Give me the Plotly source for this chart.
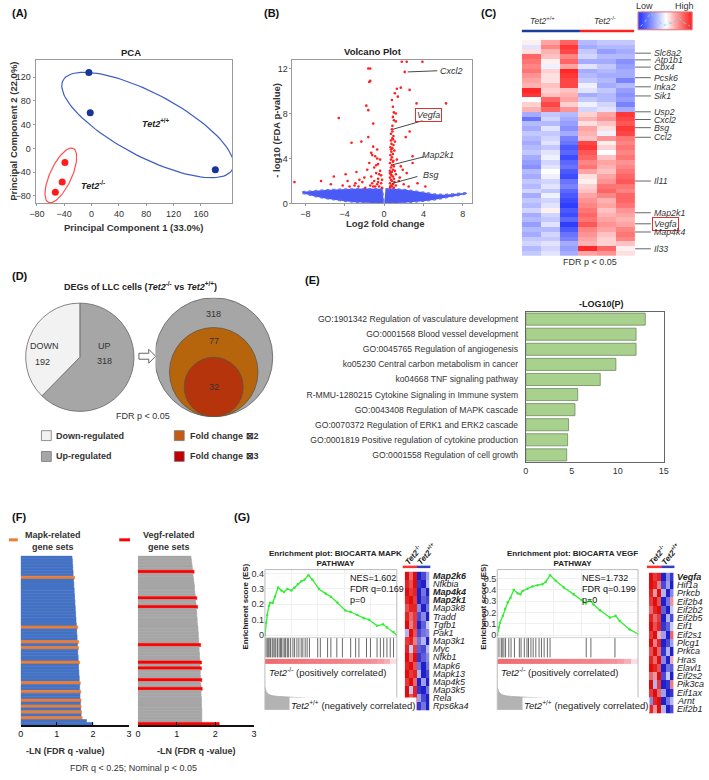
import numpy as np
import plotly.graph_objects as go

W, H = 709, 780
FONT = "Liberation Sans, Arial, Helvetica, sans-serif"

# ======================= DATA =======================
# (A) PCA
pca_wt_pc1 = [-4, -2, 181]
pca_wt_pc2 = [128, 60, -36]
pca_ko_pc1 = [-39, -43, -53]
pca_ko_pc2 = [-24, -57, -74]
pca_xticks = [-80, -40, 0, 40, 80, 120, 160]
pca_yticks = [-80, -40, 0, 40, 80, 120]

# (B) Volcano: significant genes (red)
volc_sig_x = [-9.1, -6.4, -5.4, -5.1, -4.6, -3.9, -3.7, -3.3, -3.0, -2.8, -2.6, -2.3, -2.2, -2.0, -1.8, -1.7,
              -1.6, -1.6, -1.6, -1.5, -1.4, -1.4, -1.4, -1.3, -1.2, -1.2, -1.1, -1.1, -1.0, -1.0, -0.9, -0.9,
              -0.8, -0.7, -0.7, -0.7, -0.6, -0.6, -0.5, -0.4, -0.4, -0.3, -0.3, -0.2, -2.5, -3.5, -1.9, -1.5,
              -1.3, -0.8, -0.5, -0.2, -2.9, -4.2, -1.1, -0.6,
              0.6, 0.6, 0.6, 0.6, 0.6, 0.65, 0.65, 0.7, 0.7, 0.7, 0.7, 0.7, 0.7, 0.7, 0.75, 0.75, 0.8, 0.8, 0.8,
              0.8, 0.8, 0.8, 0.85, 0.85, 0.85, 0.9, 0.9, 0.9, 0.9, 0.9, 0.95, 0.95, 1.0, 1.0, 1.0, 1.0, 1.0,
              1.05, 1.1, 1.1, 1.2, 1.2, 1.2, 1.3, 1.3, 1.4, 1.5, 1.7, 1.7, 1.9, 2.0, 2.2, 2.3, 2.6, 2.6, 2.9,
              2.9, 3.3, 1.8, 2.3, 3.9, 2.1, 6.3, 0.8, 0.9, 1.2, 0.9, 1.6, 2.5, 3.4, 4.2, 0.65, 0.75, 0.95,
              1.1, 0.7, 0.85, 1.05, 0.6, 0.9]
volc_sig_y = [1.9, 2.0, 1.7, 2.4, 7.6, 2.6, 2.0, 5.4, 1.6, 2.8, 1.5, 5.5, 1.9, 2.3, 8.7, 3.0,
              12.0, 5.9, 8.3, 10.8, 12.0, 10.9, 1.6, 2.4, 4.3, 1.8, 7.1, 5.05, 3.2, 2.0, 4.2, 1.5,
              2.7, 4.8, 4.0, 1.7, 3.5, 2.2, 1.5, 3.9, 2.9, 1.8, 2.5, 1.4, 2.1, 1.5, 1.4, 3.6,
              4.5, 3.4, 2.6, 2.1, 1.8, 1.6, 1.5, 1.9,
              1.4, 1.8, 2.3, 2.9, 3.6, 4.3, 5.0, 5.6, 6.2, 1.6, 2.1, 2.6, 3.2, 3.9, 4.6, 5.3, 6.6, 1.5, 2.0,
              2.8, 3.4, 4.1, 4.9, 5.8, 6.9, 1.7, 2.4, 3.0, 3.7, 4.4, 5.2, 6.0, 7.4, 8.1, 1.4, 2.2, 3.3,
              4.7, 5.5, 9.8, 7.3, 2.6, 1.6, 3.9, 10.2, 9.5, 2.0, 10.3, 3.3, 3.0, 1.7, 5.9, 2.7, 6.4, 10.1, 4.2,
              3.6, 8.9, 12.6, 12.6, 12.6, 11.7, 8.9, 9.2, 8.6, 8.0, 7.7, 2.3, 1.5, 1.8, 1.5, 1.5, 2.5, 3.8,
              2.9, 4.8, 6.4, 1.9, 2.7, 5.7]
# non-significant cloud (blue) outline, left and right of zero
cloud_left_top_x = [-8.3, -7.5, -7.0, -6.0, -5.0, -4.0, -3.0, -2.0, -1.0, -0.4, -0.15]
cloud_left_top_y = [1.05, 1.12, 1.15, 1.2, 1.25, 1.3, 1.3, 1.32, 1.32, 1.32, 1.3]
cloud_left_bot_x = [-0.02, -0.5, -1.0, -2.0, -3.0, -4.0, -5.0, -6.0, -7.0, -7.5, -8.3]
cloud_left_bot_y = [0.0, 0.01, 0.02, 0.05, 0.1, 0.2, 0.3, 0.45, 0.62, 0.72, 0.9]
cloud_right_top_x = [0.15, 0.6, 1.0, 2.0, 3.0, 4.0, 5.0, 6.0, 7.0, 8.0, 8.4]
cloud_right_top_y = [1.3, 1.32, 1.3, 1.25, 1.15, 1.0, 0.85, 0.78, 0.85, 0.95, 0.95]
cloud_right_bot_x = [8.4, 8.0, 7.0, 6.0, 5.0, 4.0, 3.0, 2.0, 1.0, 0.5, 0.02]
cloud_right_bot_y = [0.85, 0.78, 0.6, 0.45, 0.3, 0.2, 0.1, 0.05, 0.02, 0.01, 0.0]
volc_genes = ["Cxcl2", "Vegfa", "Map2k1", "Bsg"]
volc_gene_x = [2.4, 0.9, 0.9, 0.8]
volc_gene_y = [11.7, 6.6, 3.45, 1.77]

# (C) heatmap (rows = DEGs, cols = 3 Tet2+/+ then 3 Tet2-/-)
c_heat = [
    [0.1, 0.6, 1.0, -0.5, -0.4, -0.4], [-0.2, 0.8, 1.3, -0.6, -0.5, -0.5], [0.2, 0.5, 1.2, -0.4, -0.7, -0.6],
    [1.0, 0.4, 0.8, -0.3, -0.5, -0.5], [0.9, 0.1, 1.0, -0.6, -0.6, -0.8], [0.8, -0.1, 0.6, -0.2, -0.4, -0.7],
    [0.9, 0.3, 1.4, -0.6, -0.5, -0.6], [0.7, 0.2, 1.3, -0.5, -0.6, -0.6], [0.6, 0.2, 1.2, -0.4, -0.5, -0.9],
    [0.5, 0.4, 1.2, -0.1, -0.6, -0.5], [1.4, 0.3, 0.4, -0.2, -0.4, -0.7], [1.3, 0.4, 0.5, -0.6, -0.5, -0.8],
    [0.0, 1.0, 0.6, -0.4, -0.5, -0.7], [0.3, 1.2, 0.3, -0.1, -0.3, -0.9], [0.5, 1.0, 0.7, -0.3, -0.2, -0.6],
    [-0.6, -0.4, -0.5, 0.3, 0.6, 1.3], [-1.0, -0.3, -0.6, 0.5, 0.7, 1.2], [-0.5, -0.5, -0.7, 0.2, 0.4, 1.1],
    [-0.6, -0.2, -0.8, 0.6, 0.2, 1.3], [-0.4, -0.4, -0.6, 0.5, -0.1, 1.2], [-0.5, -0.3, -0.9, 0.4, 0.7, 0.9],
    [-0.6, -0.2, -1.0, 1.2, 0.1, 0.8], [-0.5, -0.4, -1.2, 1.3, 0.3, 0.9], [-0.4, -0.2, -1.1, 1.1, 0.0, 0.8],
    [-0.6, -0.1, -1.3, 1.0, 0.4, 0.9], [-0.7, -0.3, -1.1, 0.8, 0.6, 0.7], [-0.8, -0.2, -1.0, 0.9, 0.5, 0.8],
    [-0.5, 0.0, -1.2, 0.6, 0.4, 0.9], [-0.6, -0.1, -1.3, 0.2, 0.6, 1.0], [-0.4, -0.3, -1.0, 0.1, 0.7, 1.1],
    [-0.5, -0.2, -0.9, 0.3, 0.9, 0.9], [-0.3, -0.4, -1.1, 0.4, 1.0, 0.8], [-0.6, -0.1, -1.2, 0.6, 0.8, 1.0],
    [-0.4, -0.3, -1.3, 0.7, 0.5, 1.0], [-0.5, -0.2, -1.4, 0.8, 0.6, 0.9], [-0.3, 0.1, -1.2, 0.9, 0.4, 0.7],
    [-0.6, -0.3, -1.3, 1.0, 0.5, 0.6], [-0.5, -0.4, -1.1, 0.9, 0.6, 0.5], [-0.7, -0.2, -1.4, 1.1, 0.7, 0.6],
    [-0.5, -0.5, -1.2, 0.8, 0.6, 0.8], [-0.6, -0.3, -1.0, 0.7, 0.4, 0.9], [-0.4, -0.4, -0.9, 0.6, 0.3, 0.8],
    [-0.3, -0.2, -0.6, 0.5, 0.3, 0.4], [-0.5, -0.3, -0.7, 1.4, 1.0, 0.1], [-0.4, -0.2, -0.6, 0.6, 0.7, 0.2],
]
c_genes = ["Slc8a2", "Atp1b1", "Cbx4", "Pcsk6", "Inka2", "Sik1", "Usp2", "Cxcl2", "Bsg", "Ccl2",
           "Il11", "Map2k1", "Vegfa", "Map4k4", "Il33"]
c_gene_rows = [2.3, 3.7, 5.2, 7.4, 9.3, 11.2, 14.5, 16.1, 17.8, 19.8, 28.9, 35.5, 37.8, 39.5, 43.0]
c_legend_grad = [-1.0, -0.8, -0.6, -0.4, -0.2, 0.0, 0.2, 0.4, 0.6, 0.8, 1.0]
c_legend_hist = [0.2, 0.35, 0.7, 0.95, 0.6, 0.55, 0.3, 0.25, 0.4, 0.35, 0.5, 0.65, 0.45, 0.3, 0.2]

# (D) DEG counts
deg_labels = ["UP", "DOWN"]
deg_counts = [318, 192]
up_fc_labels = ["318", "77", "32"]

# (E) enrichment
e_terms = ["GO:1901342 Regulation of vasculature development", "GO:0001568 Blood vessel development",
           "GO:0045765 Regulation of angiogenesis", "ko05230 Central carbon metabolism in cancer",
           "ko04668 TNF signaling pathway", "R-MMU-1280215 Cytokine Signaling in Immune system",
           "GO:0043408 Regulation of MAPK cascade", "GO:0070372 Regulation of ERK1 and ERK2 cascade",
           "GO:0001819 Positive regulation of cytokine production", "GO:0001558 Regulation of cell growth"]
e_logp = [13.0, 12.0, 12.0, 9.8, 8.1, 5.65, 5.35, 4.65, 4.55, 4.45]

# (F) -LN(FDR q) of enriched gene sets (sorted)
mapk_sets = [1.42, 1.43, 1.43, 1.44, 1.44, 1.45, 1.45, 1.49, 1.46, 1.47, 1.47, 1.48, 1.48, 1.49, 1.49, 1.50,
             1.50, 1.51, 1.51, 1.52, 1.52, 1.53, 1.53, 1.54, 1.58, 1.55, 1.55, 1.56, 1.56, 1.60, 1.57, 1.60,
             1.58, 1.58, 1.59, 1.59, 1.63, 1.60, 1.60, 1.61, 1.61, 1.62, 1.62, 1.65, 1.63, 1.63, 1.66, 1.64,
             1.64, 1.67, 1.65, 1.67, 1.66, 1.68, 1.67, 1.70, 1.82, 2.00]
mapk_hl = [7, 24, 29, 31, 36, 43, 46, 49, 51, 53, 55]
vegf_sets = [1.37, 1.38, 1.39, 1.40, 1.41, 1.45, 1.42, 1.43, 1.44, 1.45, 1.46, 1.46, 1.47, 1.48, 1.52, 1.49,
             1.50, 1.54, 1.51, 1.52, 1.52, 1.53, 1.53, 1.54, 1.55, 1.55, 1.56, 1.56, 1.57, 1.57, 1.62, 1.58,
             1.58, 1.59, 1.59, 1.60, 1.64, 1.60, 1.64, 1.61, 1.61, 1.62, 1.65, 1.62, 1.63, 1.66, 1.63, 1.63,
             1.64, 1.64, 1.64, 1.64, 1.65, 1.65, 1.65, 1.65, 1.65, 2.10]
vegf_hl = [5, 14, 17, 30, 36, 38, 42, 45, 57]

# (G) GSEA
mapk_es_rank = [0, 0.75, 1.75, 3, 4, 6, 7.5, 10, 12.5, 14.5, 17, 20, 22.5, 25, 27.5, 30, 33, 36, 41, 46,
                50, 55, 61, 65, 70, 75, 79, 85, 89.5, 92.5, 97.5, 100]
mapk_es = [0, 0.08, 0.13, 0.19, 0.21, 0.21, 0.25, 0.31, 0.29, 0.28, 0.30, 0.29, 0.31, 0.33, 0.35, 0.36,
           0.39, 0.36, 0.30, 0.27, 0.25, 0.21, 0.16, 0.15, 0.13, 0.11, 0.10, 0.06, 0.07, 0.05, 0.02, 0.0]
mapk_hits = [0.75, 1.75, 2.5, 3.25, 4.25, 5.5, 6.25, 7.5, 8.25, 9.5, 10.75, 11.75, 12.5, 13.75, 15, 15.75,
             17, 18, 19.5, 21.25, 22.5, 24.25, 25.75, 27.5, 28.75, 30.5, 32, 33.75, 40, 42, 47.5, 50, 54.5,
             58.75, 65, 68.75, 71.25, 77, 80, 85, 87.5, 90, 92.5, 95, 97.5]
vegf_es_rank = [0, 1, 2, 4, 5.6, 7.5, 9.4, 11.7, 14.5, 16.4, 18, 21.5, 25, 28.6, 32, 34.4, 37.5, 41.5,
                47.3, 54.3, 60, 63, 65.6, 68.4, 73, 80, 84, 87, 94, 100]
vegf_es = [0, 0.07, 0.11, 0.17, 0.23, 0.29, 0.33, 0.40, 0.37, 0.36, 0.39, 0.41, 0.43, 0.44, 0.45, 0.47,
           0.53, 0.48, 0.42, 0.36, 0.31, 0.28, 0.31, 0.27, 0.22, 0.155, 0.17, 0.125, 0.05, 0.01]
vegf_hits = [1.2, 2.8, 3.5, 4.7, 5.9, 8.2, 9.8, 12.2, 15.7, 16.9, 19.2, 21.1, 22.2, 23.9, 25.5, 27.4,
             29.7, 31.4, 33.3, 35.6, 37.5, 63.2, 66.5, 83.6]
rank_metric_bar = [1.0, 0.98, 0.95, 0.93, 0.9, 0.88, 0.86, 0.84, 0.82, 0.8, 0.78, 0.76, 0.74, 0.72, 0.7,
                   0.66, 0.6, 0.5, 0.35, 0.1]
metric_rank = [0, 1, 3, 6, 10, 20, 40, 60, 80, 100]
metric_val = [0.75, 0.6, 0.5, 0.46, 0.44, 0.42, 0.36, 0.3, 0.24, 0.1]
mapk_genes = ["Map2k6", "Nfkbia", "Map4k4", "Map2k1", "Map3k8", "Tradd", "Tgfb1", "Pak1", "Map3k1", "Myc",
              "Nfkb1", "Mapk6", "Mapk13", "Map4k5", "Map3k5", "Rela", "Rps6ka4"]
mapk_bold = ["Map2k6", "Map4k4", "Map2k1"]
mapk_heat = [
    [1.0, 0.6, 1.0, -1.0, -0.8, -0.4], [0.9, 0.7, 1.0, -0.9, -1.0, -0.3], [1.0, 0.8, 0.9, -1.0, -0.6, -1.0],
    [0.9, 1.0, 0.8, -1.0, -0.7, -0.8], [0.7, 0.9, 0.9, -0.5, -1.0, -0.6], [0.9, 0.6, 0.8, -0.8, -0.5, -1.0],
    [1.0, 0.5, 0.8, -1.0, -0.7, -0.2], [-0.3, 1.0, 0.7, -0.8, -0.6, -0.5], [0.8, 0.9, 0.5, -0.6, -0.3, -1.0],
    [0.9, -0.2, 0.8, -0.7, -0.8, -0.3], [1.0, 0.6, 1.0, -0.9, -0.7, -0.5], [0.9, 1.0, 0.7, -0.6, -1.0, -0.6],
    [1.0, 0.8, 0.9, -0.3, -1.0, -0.8], [0.8, 1.0, 0.6, -1.0, -0.4, -1.0], [1.0, -0.2, 0.9, -0.9, -1.0, -0.6],
    [1.0, 0.7, 0.9, -0.4, -0.8, -1.0], [0.6, -0.3, 0.8, -0.9, -0.6, -1.0]]
vegf_genes = ["Vegfa", "Hif1a", "Prkcb", "Eif2b4", "Eif2b2", "Eif2b5", "Eif1", "Eif2s1", "Plcg1", "Prkca",
              "Hras", "Elavl1", "Eif2s2", "Pik3ca", "Eif1ax", "Arnt", "Eif2b1"]
vegf_bold = ["Vegfa"]
vegf_heat = [
    [1.0, 0.8, 0.9, -1.0, -0.5, -0.9], [1.0, 0.9, 0.5, -0.8, -0.4, -1.0], [0.9, 0.4, 1.0, -0.3, -1.0, -0.5],
    [0.8, 1.0, 0.7, -1.0, -0.6, 0.4], [0.6, 0.9, 1.0, -0.7, -1.0, -0.2], [0.9, 0.6, 0.8, -1.0, -0.3, -0.8],
    [1.0, 0.7, 0.9, -0.9, -0.7, -0.2], [0.8, 1.0, 0.3, -0.4, -1.0, 0.6], [1.0, 0.5, 0.9, -1.0, -0.8, -0.4],
    [0.7, 1.0, 0.6, -0.9, -0.3, -1.0], [0.9, 0.6, 1.0, -0.5, -1.0, 0.3], [1.0, 0.9, 0.7, -1.0, -0.6, -0.7],
    [0.6, 0.4, 1.0, -0.8, -0.2, -1.0], [1.0, -0.3, 0.8, -1.0, -0.9, 0.5], [0.8, 1.0, 0.6, -0.4, -1.0, -0.9],
    [-0.5, 0.9, 1.0, -1.0, -0.6, -0.3], [0.9, 0.4, 1.0, -0.3, -1.0, -0.8]]

# ======================= HELPERS =======================
def dx(l, r): return [l / W, r / W]
def dy(t, b): return [1 - b / H, 1 - t / H]
def ref(n): return ("x" if n == 1 else f"x{n}"), ("y" if n == 1 else f"y{n}")

layout_axes = {}
def set_axes(n, xd, yd, xkw=None, ykw=None):
    xr, yr = ref(n)
    xa = dict(domain=xd, anchor=yr, showgrid=False, zeroline=False, fixedrange=True,
              tickfont=dict(size=9, color="#333", family=FONT))
    ya = dict(domain=yd, anchor=xr, showgrid=False, zeroline=False, fixedrange=True,
              tickfont=dict(size=9, color="#333", family=FONT))
    xa.update(xkw or {}); ya.update(ykw or {})
    layout_axes["xaxis" if n == 1 else f"xaxis{n}"] = xa
    layout_axes["yaxis" if n == 1 else f"yaxis{n}"] = ya

HIDDEN = dict(visible=False)
annotations, shapes = [], []

def txt(text, x, y, size=9, color="#222", xanchor="center", yanchor="middle", bold=False, angle=0, **kw):
    if bold:
        text = f"<b>{text}</b>"
    annotations.append(dict(text=text, x=x / W, y=1 - y / H, xref="paper", yref="paper", showarrow=False,
                            font=dict(size=size, color=color, family=FONT), xanchor=xanchor,
                            yanchor=yanchor, textangle=angle, **kw))

def line_px(x0, y0, x1, y1, color, width=1):
    shapes.append(dict(type="line", xref="paper", yref="paper", x0=x0 / W, x1=x1 / W, y0=1 - y0 / H,
                       y1=1 - y1 / H, line=dict(color=color, width=width)))

def rect_px(x0, y0, x1, y1, fill, line=None, width=0.8):
    shapes.append(dict(type="rect", xref="paper", yref="paper", x0=x0 / W, x1=x1 / W, y0=1 - y1 / H,
                       y1=1 - y0 / H, fillcolor=fill, line=dict(color=line or fill, width=width if line else 0)))

fig = go.Figure()

# ======================= (A) PCA =======================
set_axes(1, dx(30, 230), dy(59, 204),
         dict(range=[-82, 206], tickvals=pca_xticks, showline=True, mirror=True, linecolor="#999",
              ticks="outside", ticklen=2, tickcolor="#999"),
         dict(range=[-93, 150], tickvals=pca_yticks, showline=True, mirror=True, linecolor="#999",
              ticks="outside", ticklen=2, tickcolor="#999"))

def ellipse(cx, cy, a, b, ang, sx, sy, n=120):
    t = np.linspace(0, 2 * np.pi, n)
    th = np.radians(ang)
    ex = a * np.cos(t) * np.cos(th) - b * np.sin(t) * np.sin(th)
    ey = a * np.cos(t) * np.sin(th) + b * np.sin(t) * np.cos(th)
    return cx + ex / sx, cy + ey / sy

SX, SY = 200 / 288, 145 / 243
bx, by = ellipse(np.mean(pca_wt_pc1[:2]) + 85, 39.5, 97, 32, -27.6, SX, SY)
fig.add_trace(go.Scatter(x=bx, y=by, mode="lines", line=dict(color="#3f5fc4", width=1.2), hoverinfo="skip"))
rx, ry = ellipse(np.mean(pca_ko_pc1), np.mean(pca_ko_pc2) + 6, 30, 11, 65, SX, SY)
fig.add_trace(go.Scatter(x=rx, y=ry, mode="lines", line=dict(color="#ff4f4f", width=1.2), hoverinfo="skip"))
fig.add_trace(go.Scatter(x=pca_wt_pc1, y=pca_wt_pc2, mode="markers", marker=dict(size=7, color="#16349a")))
fig.add_trace(go.Scatter(x=pca_ko_pc1, y=pca_ko_pc2, mode="markers", marker=dict(size=7, color="#ff1c1c")))
txt("(A)", 4, 12, size=11, bold=True, xanchor="left", color="#111")
txt("PCA", 127, 52, size=9.5, bold=True)
txt("Principal Component 1 (33.0%)", 130, 228, size=9.5, bold=True, color="#333")
txt("Principal Component 2 (22.0%)", 8, 131, size=9.5, bold=True, color="#333", angle=-90)
txt("<i>Tet2</i><sup>+/+</sup>", 152, 123, size=9, bold=True)
txt("<i>Tet2</i><sup>-/-</sup>", 88, 185, size=9, bold=True)

# ======================= (B) Volcano =======================
set_axes(2, dx(291, 473), dy(59, 204),
         dict(range=[-9.3, 8.9], tickvals=[-8, -4, 0, 4, 8], showline=True, mirror=True, linecolor="#999",
              ticks="outside", ticklen=2, tickcolor="#999"),
         dict(range=[0, 12.8], tickvals=[0, 4, 8, 12], showline=True, mirror=True, linecolor="#999",
              ticks="outside", ticklen=2, tickcolor="#999"))
for tx, ty, bxx, byy in [(cloud_left_top_x, cloud_left_top_y, cloud_left_bot_x, cloud_left_bot_y),
                         (cloud_right_top_x, cloud_right_top_y, cloud_right_bot_x, cloud_right_bot_y)]:
    fig.add_trace(go.Scatter(x=tx + bxx, y=ty + byy, xaxis="x2", yaxis="y2", mode="lines", fill="toself",
                             fillcolor="#4a5af5", line=dict(color="#6371f7", width=1.5, dash="dot"),
                             hoverinfo="skip"))
fig.add_trace(go.Scatter(x=volc_sig_x, y=volc_sig_y, xaxis="x2", yaxis="y2", mode="markers",
                         marker=dict(size=2.6, color="#ff2020"), hoverinfo="skip"))
label_pos = {"Cxcl2": (5.4, 11.8, 6.9, 11.75), "Vegfa": (3.9, 7.35, 4.5, 7.9),
             "Map2k1": (4.1, 4.16, 5.5, 4.35), "Bsg": (3.4, 2.4, 4.8, 2.57)}
for g, gx, gy in zip(volc_genes, volc_gene_x, volc_gene_y):
    ex_, ey_, lx, ly = label_pos[g]
    shapes.append(dict(type="line", xref="x2", yref="y2", x0=gx, y0=gy, x1=ex_, y1=ey_,
                       line=dict(color="#333", width=0.9)))
    extra = dict(bordercolor="#e03030", borderwidth=1, borderpad=1) if g == "Vegfa" else {}
    annotations.append(dict(text=f"<i>{g}</i>", x=lx, y=ly, xref="x2", yref="y2", showarrow=False,
                            font=dict(size=9, color="#333", family=FONT), **extra))
txt("(B)", 270, 12, size=11, bold=True, color="#111")
txt("Volcano Plot", 373, 51, size=9.5, bold=True)
txt("Log2 fold change", 385, 224, size=9.5, bold=True, color="#333")
txt("- log10 (FDA p-value)", 275, 130, size=9.5, bold=True, color="#333", angle=-90)

# ======================= (C) Heatmap =======================
HM_CS = [[0, "#1f30ff"], [0.5, "#ffffff"], [1, "#ff1818"]]
set_axes(3, dx(524, 639), dy(39, 257), dict(HIDDEN, range=[-0.5, 5.5]),
         dict(HIDDEN, range=[len(c_heat) - 0.5, -0.5]))
fig.add_trace(go.Heatmap(z=c_heat, xaxis="x3", yaxis="y3", colorscale=HM_CS, zmin=-1.5, zmax=1.5,
                         showscale=False, hoverinfo="skip"))
for g, r in zip(c_genes, c_gene_rows):
    shapes.append(dict(type="line", xref="paper", yref="y3", x0=639 / W, x1=655 / W, y0=r, y1=r,
                       line=dict(color="#555", width=0.9)))
    extra = dict(bordercolor="#e03030", borderwidth=1, borderpad=1) if g == "Vegfa" else {}
    annotations.append(dict(text=f"<i>{g}</i>", x=656 / W, y=r, xref="paper", yref="y3", showarrow=False,
                            xanchor="left", font=dict(size=8.8, color="#333", family=FONT), **extra))
txt("(C)", 491, 12, size=11, bold=True, color="#111")
txt("<i>Tet2</i><sup>+/+</sup>", 545, 20, size=8.5, color="#333")
txt("<i>Tet2</i><sup>-/-</sup>", 608, 20, size=8.5, color="#333")
rect_px(524, 29, 583, 31.5, "#1d3c9c")
rect_px(583, 29, 638, 31.5, "#ff2020")
txt("FDR p < 0.05", 593, 263, size=9, color="#333")
# Low/High legend
set_axes(4, dx(642, 697), dy(11, 29), dict(HIDDEN, range=[-0.5, len(c_legend_grad) - 0.5]),
         dict(HIDDEN, range=[-0.5, 0.5]))
fig.add_trace(go.Heatmap(z=[c_legend_grad], xaxis="x4", yaxis="y4", colorscale=HM_CS, zmin=-1.1, zmax=1.1,
                         showscale=False, zsmooth="best", hoverinfo="skip"))
fig.add_trace(go.Scatter(x=np.linspace(0, len(c_legend_grad) - 1, len(c_legend_hist)),
                         y=np.array(c_legend_hist) - 0.5, xaxis="x4", yaxis="y4", mode="lines",
                         line=dict(color="#5fe0e0", width=1, dash="dot"), hoverinfo="skip"))
rect_px(642, 11, 697, 29, "rgba(0,0,0,0)", line="#e07070", width=1)
txt("Low", 649, 5, size=9, color="#333")
txt("High", 689, 5, size=9, color="#333")

# ======================= (D) DEG pie + nested circles =======================
fig.add_trace(go.Pie(values=deg_counts, labels=deg_labels, sort=False, direction="clockwise",
                     marker=dict(colors=["#a6a6a6", "#f2f2f2"], line=dict(color="#666", width=0.8)),
                     textinfo="none", domain=dict(x=dx(20, 130), y=dy(304, 414)), hoverinfo="skip"))
txt("DOWN", 39, 348, size=9, color="#333")
txt(str(deg_counts[1]), 37, 364, size=9, color="#333")
txt("UP", 100, 348, size=9, color="#333")
txt(str(deg_counts[0]), 100, 363, size=9, color="#333")
arrow = [(135, 355), (145, 355), (145, 351), (152, 358), (145, 365), (145, 361), (135, 361)]
shapes.append(dict(type="path", xref="paper", yref="paper",
                   path="M " + " L ".join(f"{x / W},{1 - y / H}" for x, y in arrow) + " Z",
                   fillcolor="white", line=dict(color="#555", width=0.9)))
set_axes(5, dx(152, 272), dy(299, 419), dict(HIDDEN, range=[0, 120]), dict(HIDDEN, range=[0, 120]))
circ_r = [60, 45, 30]
circ_col = ["#a6a6a6", "#b7650d", "#b5340c"]
for r, c in zip(circ_r, circ_col):
    shapes.append(dict(type="circle", xref="x5", yref="y5", x0=59 - r, x1=59 + r, y0=0, y1=2 * r,
                       fillcolor=c, line=dict(color="#555", width=0.7)))
for lab, yy in zip(up_fc_labels, [104, 76, 30]):
    annotations.append(dict(text=lab, x=59, y=yy, xref="x5", yref="y5", showarrow=False,
                            font=dict(size=9, color="#333", family=FONT)))
txt("(D)", 4, 277, size=11, bold=True, xanchor="left", color="#111")
txt("DEGs of LLC cells (<i>Tet2</i><sup>-/-</sup> vs <i>Tet2</i><sup>+/+</sup>)", 137, 287, size=9,
    bold=True, color="#222")
txt("FDR p < 0.05", 139, 418, size=9, color="#333")
rect_px(36, 433, 46, 443, "#f2f2f2", line="#777")
rect_px(36, 454, 46, 464, "#a6a6a6", line="#777")
rect_px(171, 433, 181, 443, "#c55a11", line="#777")
rect_px(171, 454, 181, 464, "#c00000", line="#777")
txt("Down-regulated", 49, 438, size=9, bold=True, xanchor="left", color="#333")
txt("Up-regulated", 49, 459, size=9, bold=True, xanchor="left", color="#333")
txt("Fold change ⊠2", 185, 438, size=9, bold=True, xanchor="left", color="#333")
txt("Fold change ⊠3", 185, 459, size=9, bold=True, xanchor="left", color="#333")

# ======================= (E) enrichment bars =======================
set_axes(6, dx(528, 668), dy(313, 465),
         dict(range=[0, 15], tickvals=[0, 5, 10, 15], showline=True, mirror=True, linecolor="#666",
              ticks=""),
         dict(autorange="reversed", showline=True, mirror=True, linecolor="#666", ticks="",
              ticklabelstandoff=5, tickfont=dict(size=8.6, color="#333", family=FONT)))
fig.add_trace(go.Bar(x=e_logp, y=e_terms, orientation="h", xaxis="x6", yaxis="y6", width=0.8,
                     marker=dict(color="#a9d18e", line=dict(color="#6f8a60", width=0.8)), hoverinfo="skip"))
txt("(E)", 311, 281, size=11, bold=True, color="#111")
txt("-LOG10(P)", 605, 305, size=9, bold=True)

# ======================= (F) gene set bars =======================
def f_panel(n, xl, xr, vals, hl, base, hlc, xticks):
    set_axes(n, dx(xl, xr), dy(559, 730),
             dict(range=[0, 3], tickvals=xticks, showline=True, linecolor="#111", linewidth=1.2,
                  ticks="inside", ticklen=3, tickcolor="#111",
                  tickfont=dict(size=9, color="#111", family=FONT)),
             dict(HIDDEN, range=[len(vals) - 0.5, -0.5]))
    cols = [hlc if i in hl else base for i in range(len(vals))]
    xr_, yr_ = ref(n)
    fig.add_trace(go.Bar(x=vals, y=list(range(len(vals))), orientation="h", xaxis=xr_, yaxis=yr_,
                         width=1.0, marker=dict(color=cols, line=dict(width=0.6, color=cols)),
                         hoverinfo="skip"))

f_panel(7, 15, 125, mapk_sets, mapk_hl, "#4472c4", "#ed7d31", [0, 1, 2, 3])
f_panel(8, 134, 252, vegf_sets, vegf_hl, "#a6a6a6", "#ff0000", [0, 1, 2, 3])
txt("(F)", 4, 520, size=11, bold=True, xanchor="left", color="#111")
line_px(3, 543, 12, 543, "#ed7d31", 3)
line_px(115, 543, 126, 543, "#ff0000", 3)
txt("Mapk-related<br>gene sets", 17, 544, size=9, bold=True, xanchor="left", color="#333")
txt("Vegf-related<br>gene sets", 137, 544, size=9, bold=True, xanchor="left", color="#333")
txt("-LN (FDR q -value)", 60, 756, size=9, bold=True, color="#333")
txt("-LN (FDR q -value)", 193, 756, size=9, bold=True, color="#333")
txt("FDR q < 0.25; Nominal p < 0.05", 130, 773, size=9, color="#333")

# ======================= (G) GSEA =======================
GS_CS = [[0, "#1515c8"], [0.5, "#f2f2ff"], [1, "#e00000"]]
BAR_CS = [[0, "#fff0f2"], [0.4, "#f7a5ad"], [1, "#f06a70"]]

def gsea(base, xl, xr, es_rank, es, es_max, es_ticks, hits, heat, genes, bold_genes,
         hm_l, hm_r, hm_t, hm_b, title, nes, fdr, pos_txt_x, neg_txt_x, ylab_x):
    n_es, n_lo, n_me, n_hm = base, base + 1, base + 2, base + 3
    es_min = -es_max * 0.03
    set_axes(n_es, dx(xl, xr), dy(573, 641), dict(range=[0, 100], showticklabels=False, ticks=""),
             dict(range=[es_min, es_max], tickvals=es_ticks, ticktext=[("%g" % v) for v in es_ticks],
                  showgrid=True, gridcolor="#f0f0f0", ticks=""))
    layout_axes[f"xaxis{n_es}"].update(showgrid=True, gridcolor="#f0f0f0", tickvals=[20, 40, 60, 80])
    xr_, yr_ = ref(n_es)
    fig.add_trace(go.Scatter(x=es_rank, y=es, xaxis=xr_, yaxis=yr_, mode="lines+markers",
                             line=dict(color="#33ee33", width=1.3), marker=dict(size=2.5, color="#33ee33"),
                             hoverinfo="skip"))
    set_axes(n_lo, dx(xl, xr), dy(642, 669), dict(HIDDEN, range=[0, 100]), dict(HIDDEN, range=[0, 27]))
    xr_, yr_ = ref(n_lo)
    hx, hy = [], []
    for h in hits:
        hx += [h, h, None]
        hy += [7.5, 27, None]
    fig.add_trace(go.Scatter(x=hx, y=hy, xaxis=xr_, yaxis=yr_, mode="lines",
                             line=dict(color="#444", width=0.8), hoverinfo="skip"))
    fig.add_trace(go.Heatmap(z=[rank_metric_bar], x=np.linspace(0, 100, len(rank_metric_bar) + 1),
                             y=[0.5, 6], xaxis=xr_, yaxis=yr_, colorscale=BAR_CS, zmin=0, zmax=1,
                             showscale=False, hoverinfo="skip"))
    set_axes(n_me, dx(xl, xr), dy(684, 714), dict(HIDDEN, range=[0, 100]), dict(HIDDEN, range=[0, 1]))
    xr_, yr_ = ref(n_me)
    fig.add_trace(go.Scatter(x=metric_rank, y=metric_val, xaxis=xr_, yaxis=yr_, mode="lines",
                             fill="tozeroy", fillcolor="#b3b3b3", line=dict(color="#a8a8a8", width=0.8),
                             hoverinfo="skip"))
    rect_px(xl, 573, xr, 714, "rgba(0,0,0,0)", line="#bbbbbb", width=1)
    line_px(xl, 641.5, xr, 641.5, "#cccccc", 0.8)
    # small heatmap
    set_axes(n_hm, dx(hm_l, hm_r), dy(hm_t, hm_b), dict(HIDDEN, range=[-0.5, 5.5]),
             dict(HIDDEN, range=[len(heat) - 0.5, -0.5]))
    xr_, yr_ = ref(n_hm)
    fig.add_trace(go.Heatmap(z=heat, xaxis=xr_, yaxis=yr_, colorscale=GS_CS, zmin=-1.05, zmax=1.05,
                             showscale=False, hoverinfo="skip"))
    for i, g in enumerate(genes):
        t = f"<i><b>{g}</b></i>" if g in bold_genes else f"<i>{g}</i>"
        annotations.append(dict(text=t, x=(hm_r + 2) / W, y=i, xref="paper", yref=yr_, showarrow=False,
                                xanchor="left", font=dict(size=9, color="#222", family=FONT)))
    mid = (hm_l + hm_r) / 2
    rect_px(hm_l - 2, 569, mid, 571.5, "#ff3030")
    rect_px(mid, 569, hm_r + 1, 571.5, "#3040c0")
    txt("<i>Tet2</i><sup>-/-</sup>", (hm_l + mid) / 2 + 2, 558, size=8, bold=True, angle=-50)
    txt("<i>Tet2</i><sup>+/+</sup>", (mid + hm_r) / 2 + 3, 557, size=8, bold=True, angle=-50)
    # texts
    txt(f"Enrichment plot: {title}<br>PATHWAY", (xl + xr) / 2 + 5, 562, size=8, bold=True, color="#222")
    txt(f"NES={nes}", xl + 84, 581, size=9, xanchor="left", color="#111")
    txt(f"FDR q={fdr}", xl + 84, 593, size=9, xanchor="left", color="#111")
    txt("p=0", xl + 84, 604, size=9, xanchor="left", color="#111")
    txt("<i>Tet2</i><sup>-/-</sup> (positively correlated)", pos_txt_x, 676, size=9.5, xanchor="left",
        color="#222")
    txt("<i>Tet2</i><sup>+/+</sup> (negatively correlated)", neg_txt_x, 709, size=9.5, xanchor="left",
        color="#222", bgcolor="white")
    txt("Enrichment score (ES)", ylab_x, 610, size=8, bold=True, angle=-90, color="#222")

gsea(9, 263, 397, mapk_es_rank, mapk_es, 0.426, [0, 0.1, 0.2, 0.3, 0.4], mapk_hits, mapk_heat, mapk_genes,
     mapk_bold, 405, 430, 575, 715, "BIOCARTA MAPK", "1.602", "0.169", 265, 287, 243)
gsea(13, 499, 642, vegf_es_rank, vegf_es, 0.579, [0, 0.1, 0.2, 0.3, 0.4, 0.5], vegf_hits, vegf_heat,
     vegf_genes, vegf_bold, 653, 678, 576, 718, "BIOCARTA VEGF", "1.732", "0.199", 501, 524, 485)
txt("(G)", 240, 520, size=11, bold=True, color="#111")

# ======================= LAYOUT =======================
fig.update_layout(width=W, height=H, autosize=False, margin=dict(l=0, r=0, t=0, b=0),
                  paper_bgcolor="white", plot_bgcolor="white", showlegend=False, hovermode=False,
                  font=dict(family=FONT, size=9, color="#222"),
                  annotations=annotations, shapes=shapes, **layout_axes)
fig.write_html("out.html", config={"displayModeBar": False, "staticPlot": True},
               post_script="document.body.style.margin='0px';document.body.style.overflow='hidden';")
